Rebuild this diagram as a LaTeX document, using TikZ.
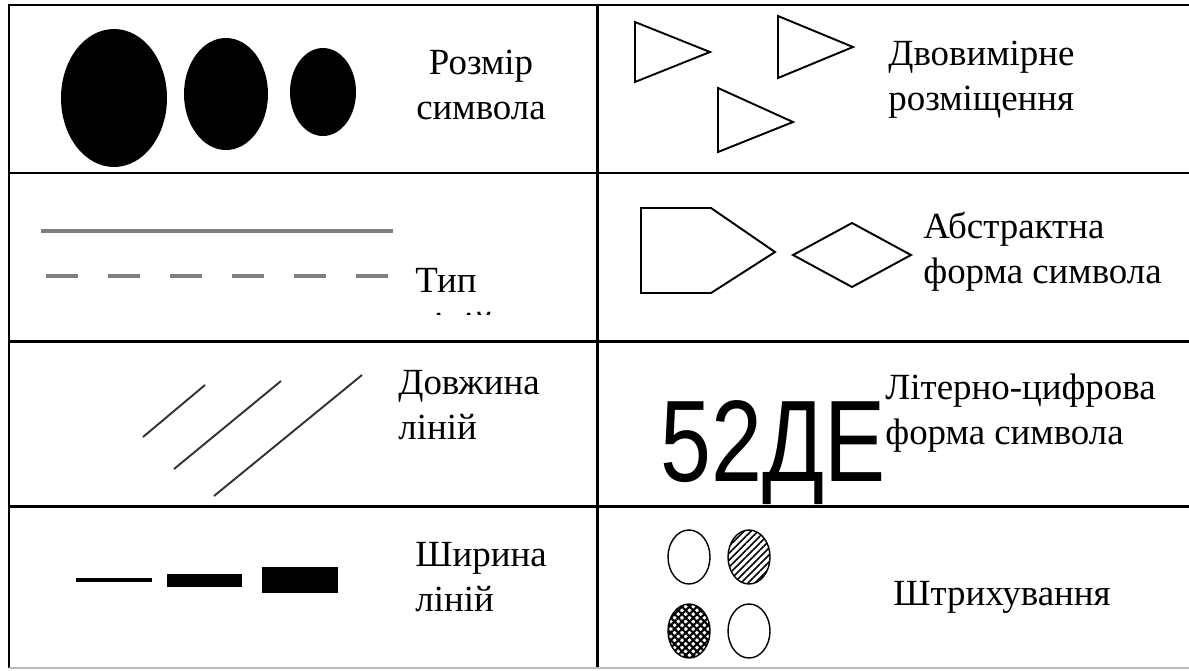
\documentclass[tikz,border=0pt]{standalone}
\usepackage{fontspec}
\setmainfont{Liberation Serif}
\newfontfamily\glyphfont{Liberation Sans}
\usetikzlibrary{patterns.meta}

\begin{document}
\begin{tikzpicture}[x=0.02cm, y=-0.02cm,
    frame/.style={line width=1.7pt, black},
    outl/.style={line width=1.1pt, black, line join=miter},
    gline/.style={line width=1.9pt, gray},
    dline/.style={line width=1.1pt, black!80},
    dot/.style={line width=0.8pt, black},
    lbl/.style={font=\fontsize{21}{25.5}\selectfont, inner sep=0pt, align=left}]

  \useasboundingbox (0,0) rectangle (1189,670);

  % table
  \draw[frame] (1189,5) -- (9,5) -- (9,668);
  \draw[frame] (597,5) -- (597,668);
  \foreach \yy in {173,341,506}
    \draw[frame] (9,\yy) -- (1189,\yy);
  \draw[gray!55, line width=0.7pt] (9,668) -- (1189,668);

  % size
  \fill (114,98) ellipse [x radius=53, y radius=69];
  \fill (226,94) ellipse [x radius=42, y radius=56];
  \fill (323,92) ellipse [x radius=33, y radius=44];
  \node[lbl, align=center] (size) at (481,85) {Розмір\\символа};

  % placement
  \draw[outl] (635,22) -- (635,82) -- (710,52) -- cycle;
  \draw[outl] (778,16) -- (778,78) -- (853,47) -- cycle;
  \draw[outl] (718,88) -- (718,152) -- (793,122) -- cycle;
  \node[lbl, anchor=west] (place) at (888,80) {Двовимірне\\розміщення};

  % line type
  \draw[gline] (41,231) -- (393,231);
  \draw[gline, dash pattern=on 0.64cm off 0.60cm] (46,276) -- (390,276);
  \begin{scope}
    \clip (400,250) rectangle (560,314);
    \node[lbl, anchor=north west] (ltype) at (415,268) {Тип\\ліній};
  \end{scope}

  % abstract shape
  \draw[outl] (641,208) -- (711,208) -- (775,252) -- (711,293) -- (641,293) -- cycle;
  \draw[outl] (793,255) -- (852,223) -- (911,255) -- (852,287) -- cycle;
  \node[lbl, anchor=west] (abstr) at (923,252) {Абстрактна\\форма символа};

  % line length
  \draw[dline] (143,437) -- (205,385);
  \draw[dline] (174,469) -- (281,381);
  \draw[dline] (214,496) -- (362,375);
  \node[lbl, anchor=west] (llen) at (398,405) {Довжина\\ліній};

  % alphanumeric
  \node[inner sep=0pt, anchor=base west, font=\glyphfont\fontsize{66}{66}\selectfont] (alnum) at (660,481) {\scalebox{0.79}[1]{52ДЕ}};
  \node[lbl, anchor=west] (alpha) at (885,413) {Літерно-цифрова\\форма символа};

  % line width
  \fill (76,578) rectangle (152,582);
  \fill (167,574) rectangle (242,587);
  \fill (262,567) rectangle (338,593);
  \node[lbl, anchor=west] (lwid) at (415,577) {Ширина\\ліній};

  % hatching
  \draw[dot] (689,557) ellipse [x radius=21, y radius=27];
  \draw[dot, pattern={Lines[angle=45, distance=2.8pt, line width=0.9pt]}] (749,557) ellipse [x radius=21, y radius=27];
  \draw[dot, pattern={Hatch[angle=45, distance=3pt, line width=1.2pt]}] (689,631) ellipse [x radius=21, y radius=27];
  \draw[dot] (749,631) ellipse [x radius=21, y radius=27];
  \node[lbl, anchor=west] (hatch) at (893,597) {Штрихування};
\end{tikzpicture}
\end{document}
